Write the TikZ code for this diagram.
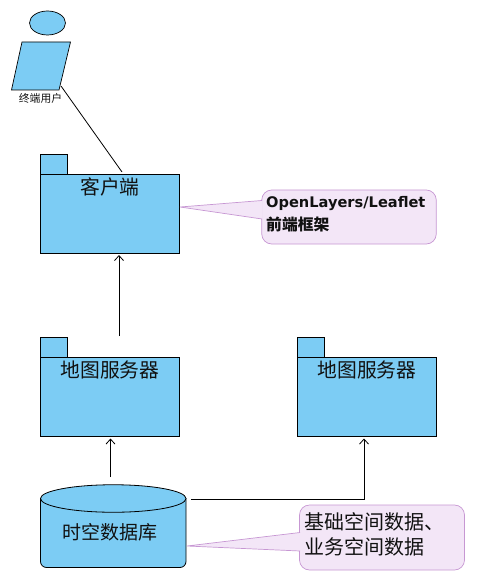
\documentclass[tikz,border=0pt]{standalone}
\usepackage{fontspec}
\setmainfont{Noto Sans CJK SC}
\newfontfamily\latinbold{DejaVu Sans}
\usetikzlibrary{arrows.meta,shapes.geometric}
\definecolor{blueFill}{HTML}{7CCCF4}
\definecolor{noteFill}{HTML}{F3E6F7}
\definecolor{noteEdge}{HTML}{C797D3}
\definecolor{ink}{HTML}{111111}
\tikzset{
  x=1pt,y=-1pt,
  pkg/.style={draw=black,fill=blueFill,line width=0.8pt,minimum width=139pt,minimum height=79pt,inner sep=0pt,outer sep=0pt},
  pkgtab/.style={draw=black,fill=blueFill,line width=0.8pt,minimum width=27pt,minimum height=20.5pt,inner sep=0pt,outer sep=0pt},
  title/.style={text=ink,font=\fontsize{19.8}{22}\selectfont,inner sep=0pt},
  note/.style={draw=noteEdge,fill=noteFill,line width=0.7pt,rounded corners=10pt,inner sep=0pt,outer sep=0pt},
  tail/.style={draw=noteEdge,line width=0.7pt},
  link/.style={draw=black,line width=0.8pt},
  arrowlink/.style={link,-{Straight Barb[length=5pt,width=9pt,line width=0.8pt]}},
}
\begin{document}
\begin{tikzpicture}
\useasboundingbox (0,0) rectangle (479,585);
% actor
\node[draw=black,fill=blueFill,line width=0.7pt,ellipse,minimum width=36pt,minimum height=24pt,inner sep=0pt,outer sep=0pt] (head) at (47.5,23) {};
\path[draw=black,fill=blueFill,line width=0.7pt] (22,42) -- (70.5,42) -- (59,90) -- (11.5,90) -- cycle;
\coordinate (actorfoot) at (61,86);
\node[text=ink,font=\fontsize{10.8}{12}\selectfont,inner sep=0pt] (actorlabel) at (40.5,98) {终端用户};
% packages
\node[pkgtab] (clienttab) at (54,164.25) {};
\node[pkg,minimum height=78.5pt] (client) at (110,213.75) {};
\node[title] (clienttitle) at (110,187) {客户端};
\node[pkgtab] (map1tab) at (54,347.25) {};
\node[pkg] (map1) at (110,397) {};
\node[title] (map1title) at (110,370) {地图服务器};
\node[pkgtab] (map2tab) at (311,347.25) {};
\node[pkg] (map2) at (367,397) {};
\node[title] (map2title) at (367,370) {地图服务器};
% database
\path[draw=black,fill=blueFill,line width=0.8pt,rounded corners=6pt] (40.5,498) -- (40.5,567.5) -- (186,567.5) -- (186,498);
\node[draw=black,fill=blueFill,line width=0.8pt,ellipse,minimum width=145.5pt,minimum height=27.5pt,inner sep=0pt,outer sep=0pt] (dbtop) at (113.25,498.5) {};
\node[title,font=\fontsize{19}{22}\selectfont] (db) at (110,532) {时空数据库};
% connectors
\coordinate (dbup) at (110.5,477);
\coordinate (dbright) at (191,499);
\coordinate (map1in) at (dbup |- map1.south);
\draw[link] (actorfoot) -- ([xshift=12pt,yshift=2.5pt]client.north);
\draw[arrowlink] ([xshift=9pt,yshift=21.5pt]map1.north) -- ([xshift=9pt,yshift=-2pt]client.south);
\draw[arrowlink] (dbup) -- ([yshift=-2pt]map1in);
\draw[arrowlink] (dbright) -| ([xshift=-3pt,yshift=-2pt]map2.south);
% notes
\node[note,minimum width=174.5pt,minimum height=54pt] (note1) at (349,217) {};
\node[note,minimum width=165pt,minimum height=65pt] (note2) at (382,537.5) {};
\coordinate (tip1) at (180,207);
\coordinate (tip2) at (187,546);
\fill[noteFill] (tip1) -- (262.5,200.5) -- (262.5,219) -- cycle;
\draw[tail] (tip1) -- (262,200.5) (tip1) -- (262,219);
\fill[noteFill] (tip2) -- (300.5,532.5) -- (300.5,551) -- cycle;
\draw[tail] (tip2) -- (300,532.5) (tip2) -- (300,551);
\node[anchor=west,inner sep=0pt,text=ink,font=\latinbold\bfseries\fontsize{14.6}{17}\selectfont] (note1a) at (266,204) {OpenLayers/Leaflet};
\node[anchor=west,inner sep=0pt,text=ink,font=\bfseries\fontsize{15.8}{17}\selectfont] (note1b) at (266,225) {前端框架};
\node[anchor=west,inner sep=0pt,text=ink,font=\fontsize{20}{22}\selectfont] (note2a) at (304,522) {基础空间数据、};
\node[anchor=west,inner sep=0pt,text=ink,font=\fontsize{20}{22}\selectfont] (note2b) at (304,547) {业务空间数据};
\end{tikzpicture}
\end{document}
